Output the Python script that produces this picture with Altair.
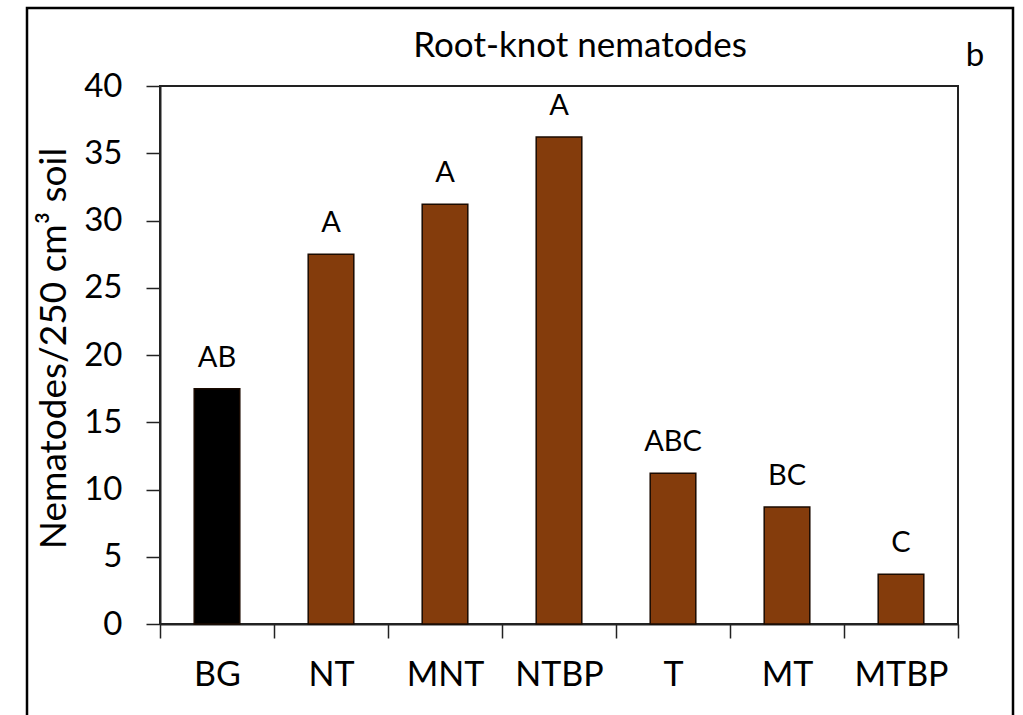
import altair as alt
import pandas as pd

# Treatments, root-knot nematode counts and mean-separation letters
treatments = ["BG", "NT", "MNT", "NTBP", "T", "MT", "MTBP"]
counts = [17.5, 27.5, 31.2, 36.2, 11.2, 8.7, 3.7]
letters = ["AB", "A", "A", "A", "ABC", "BC", "C"]
bar_colors = ["#000000", "#843C0C", "#843C0C", "#843C0C", "#843C0C", "#843C0C", "#843C0C"]
y_ticks = [0, 5, 10, 15, 20, 25, 30, 35, 40]

FONT = "Lato"

df = pd.DataFrame({"treatment": treatments, "count": counts, "letter": letters})

x_enc = alt.X(
    "treatment:N",
    sort=treatments,
    scale=alt.Scale(paddingInner=0, paddingOuter=0),
    axis=alt.Axis(
        title=None,
        labelAngle=0,
        labelFont=FONT,
        labelFontSize=34,
        labelColor="#000000",
        labelPadding=20,
        tickBand="extent",
        tickSize=14,
        tickColor="#222222",
        tickWidth=1.5,
        domainColor="#222222",
        domainWidth=2,
    ),
)

y_enc = alt.Y(
    "count:Q",
    scale=alt.Scale(domain=[0, 40], nice=False),
    axis=alt.Axis(
        title="Nematodes/250 cm³ soil",
        titleFont=FONT,
        titleFontSize=37,
        titleFontWeight="normal",
        titleColor="#000000",
        titlePadding=10,
        titleY=262,
        values=y_ticks,
        labelFont=FONT,
        labelFontSize=33,
        labelColor="#000000",
        labelPadding=24,
        tickSize=14,
        tickColor="#222222",
        tickWidth=1.5,
        domainColor="#222222",
        domainWidth=2,
        grid=False,
    ),
)

base = alt.Chart(df)

bars = base.mark_bar(
    width=alt.RelativeBandSize(0.4),
    stroke="#1a0a00",
    strokeWidth=1.5,
).encode(
    x=x_enc,
    y=y_enc,
    color=alt.Color(
        "treatment:N",
        scale=alt.Scale(domain=treatments, range=bar_colors),
        legend=None,
    ),
)

labels = base.mark_text(
    font=FONT,
    fontSize=29,
    baseline="alphabetic",
    dy=-22,
    color="#000000",
).encode(
    x=alt.X("treatment:N", sort=treatments),
    y=alt.Y("count:Q"),
    text="letter:N",
)

single = alt.Chart(pd.DataFrame({"k": [0]}))

title = single.mark_text(
    text="Root-knot nematodes",
    font=FONT,
    fontSize=35,
    align="center",
    baseline="alphabetic",
    color="#000000",
).encode(x=alt.value(420), y=alt.value(-29))

panel_tag = single.mark_text(
    text="b",
    font=FONT,
    fontSize=33,
    align="center",
    baseline="alphabetic",
    color="#000000",
).encode(x=alt.value(815), y=alt.value(-20))

frame = single.mark_rect(
    fillOpacity=0,
    stroke="#000000",
    strokeWidth=2.5,
).encode(
    x=alt.value(-133),
    x2=alt.value(853),
    y=alt.value(-78),
    y2=alt.value(680),
)

chart = (
    alt.layer(bars, labels, title, panel_tag, frame)
    .properties(
        width=798,
        height=538,
        autosize=alt.AutoSizeParams(type="none"),
        padding={"left": 160, "top": 86, "right": 65, "bottom": 91},
        background="#ffffff",
    )
    .configure_view(stroke="#222222", strokeWidth=2)
)

chart.save("out.html", embed_options={"renderer": "svg", "actions": False})
